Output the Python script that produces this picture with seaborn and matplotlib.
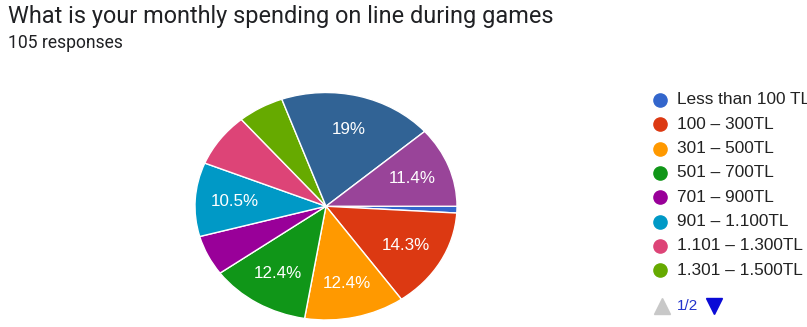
import matplotlib
matplotlib.use("Agg")
import matplotlib.pyplot as plt
import seaborn as sns
from matplotlib.lines import Line2D

# ---- data ----
title = "What is your monthly spending on line during games"
subtitle = "105 responses"
categories = ["Less than 100 TL", "100 – 300TL", "301 – 500TL", "501 – 700TL",
              "701 – 900TL", "901 – 1.100TL", "1.101 – 1.300TL", "1.301 – 1.500TL",
              "1.501 – 1.700TL", "More than 1.700TL"]
counts = [1, 15, 13, 13, 6, 11, 8, 6, 20, 12]
colors = ["#3366CC", "#DC3912", "#FF9900", "#109618", "#990099",
          "#0099C6", "#DD4477", "#66AA00", "#316395", "#994499"]
legend_shown = 8
page_text = "1/2"

sns.set_theme(style="white")
plt.rcParams["font.family"] = ["Roboto", "DejaVu Sans"]

W, H = 807, 327
fig = plt.figure(figsize=(W / 100, H / 100), dpi=100)
fig.patch.set_facecolor("white")
renderer = fig.canvas.get_renderer()


def fx(px):
    return px / W


def fy(py):
    return 1 - py / H


def fit(t, target_px):
    ext = t.get_window_extent(renderer=renderer)
    t.set_fontsize(t.get_fontsize() * target_px / ext.width)


t = fig.text(fx(8), fy(23), title, fontsize=15, color="#202124", va="baseline",
             family=["Roboto", "DejaVu Sans"])
fit(t, 544)
s = fig.text(fx(8), fy(48), subtitle, fontsize=11, color="#202124", va="baseline",
             family=["Roboto", "DejaVu Sans"])
fit(s, 115)

# ---- pie ----
ax = fig.add_axes([fx(195), fy(320), (457 - 195) / W, (320 - 92.5) / H])


def pct_fmt(p):
    if p < 10:
        return ""
    txt = f"{p:.1f}"
    if txt.endswith(".0"):
        txt = txt[:-2]
    return txt + "%"


wedges, texts, autotexts = ax.pie(
    counts, colors=colors, startangle=0, counterclock=False,
    autopct=pct_fmt, pctdistance=0.7,
    wedgeprops=dict(edgecolor="white", linewidth=1.0),
    textprops=dict(color="white", fontsize=10, family=["Liberation Sans", "DejaVu Sans"]))
ax.set_aspect("auto")
ax.set_xlim(-1, 1)
ax.set_ylim(-1, 1)
ax.axis("off")

ref = [a for a in autotexts if a.get_text() == "14.3%"][0]
ext = ref.get_window_extent(renderer=renderer)
scale = 48 / ext.width
for a in autotexts:
    a.set_fontsize(a.get_fontsize() * scale)

# ---- legend (page 1) ----
row0, step = 100, 24.3
leg_texts = []
for i in range(legend_shown):
    y = row0 + i * step
    fig.add_artist(Line2D([fx(660)], [fy(y)], marker="o", markersize=9.5,
                          markerfacecolor=colors[i], markeredgecolor=colors[i],
                          linestyle="none", transform=fig.transFigure))
    lt = fig.text(fx(677), fy(y), categories[i], fontsize=10.5, color="#222222",
                  va="center", family=["Liberation Sans", "DejaVu Sans"])
    leg_texts.append(lt)
ext = leg_texts[6].get_window_extent(renderer=renderer)
lscale = 126 / ext.width
for lt in leg_texts:
    lt.set_fontsize(lt.get_fontsize() * lscale)

# pagination
py = 306
fig.add_artist(Line2D([fx(662)], [fy(py)], marker="^", markersize=11,
                      markerfacecolor="#C8C8C8", markeredgecolor="#C8C8C8",
                      linestyle="none", transform=fig.transFigure))
fig.text(fx(677), fy(py), page_text, fontsize=11, color="#2233CC", ha="left", va="center",
         family=["Liberation Sans", "DejaVu Sans"])
fig.add_artist(Line2D([fx(714)], [fy(py)], marker="v", markersize=11,
                      markerfacecolor="#0A0AD6", markeredgecolor="#0A0AD6",
                      linestyle="none", transform=fig.transFigure))

fig.savefig("out.png", dpi=100, facecolor="white")
